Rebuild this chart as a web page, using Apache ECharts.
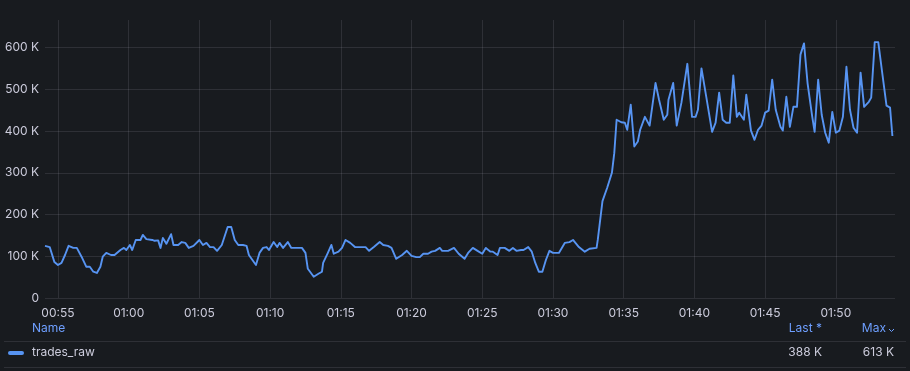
<!DOCTYPE html>
<html>
<head>
<meta charset="utf-8">
<script src="https://cdn.jsdelivr.net/npm/echarts@6/dist/echarts.min.js"></script>
<style>
html,body{margin:0;padding:0;background:#181b1f;}
#chart{width:910px;height:371px;}
</style>
</head>
<body>
<div id="chart"></div>
<script>
// Sample times (HH:MM:SS) and trades_raw values (in thousands)
const times = [
"00:54:05","00:54:25","00:54:45","00:55:00","00:55:15","00:55:30","00:55:45","00:56:05","00:56:20","00:56:40",
"00:57:00","00:57:15","00:57:30","00:57:45","00:58:00","00:58:10","00:58:25","00:58:45","00:59:00","00:59:25",
"00:59:40","00:59:50","01:00:05","01:00:15","01:00:30","01:00:50","01:01:00","01:01:15","01:01:40","01:01:50",
"01:02:05","01:02:15","01:02:25","01:02:40","01:03:00","01:03:10","01:03:30","01:03:45","01:04:00","01:04:15",
"01:04:35","01:05:00","01:05:15","01:05:30","01:05:45","01:06:00","01:06:15","01:06:35","01:07:00","01:07:15",
"01:07:30","01:07:45","01:08:05","01:08:20","01:08:30","01:08:45","01:09:00","01:09:15","01:09:30","01:09:45",
"01:09:55","01:10:15","01:10:30","01:10:40","01:10:55","01:11:15","01:11:30","01:11:55","01:12:15","01:12:30",
"01:12:40","01:13:05","01:13:25","01:13:40","01:13:45","01:14:05","01:14:20","01:14:30","01:14:50","01:15:05",
"01:15:20","01:15:40","01:16:00","01:16:20","01:16:45","01:17:00","01:17:20","01:17:45","01:18:00","01:18:20",
"01:18:35","01:18:55","01:19:20","01:19:40","01:20:00","01:20:20","01:20:35","01:20:50","01:21:10","01:21:25",
"01:21:40","01:22:00","01:22:10","01:22:35","01:23:00","01:23:20","01:23:45","01:24:00","01:24:20","01:24:40",
"01:25:00","01:25:15","01:25:35","01:25:45","01:26:05","01:26:15","01:26:35","01:26:55","01:27:10","01:27:25",
"01:27:45","01:27:55","01:28:15","01:28:30","01:28:45","01:29:00","01:29:15","01:29:30","01:29:45","01:30:00",
"01:30:25","01:30:50","01:31:10","01:31:25","01:31:50","01:32:15","01:32:35","01:33:05","01:33:10","01:33:30",
"01:33:50","01:34:10","01:34:20","01:34:30","01:34:50","01:35:05","01:35:15","01:35:30","01:35:45","01:36:00",
"01:36:10","01:36:30","01:36:50","01:37:15","01:37:30","01:37:50","01:38:05","01:38:10","01:38:30","01:38:45",
"01:39:05","01:39:30","01:39:50","01:40:05","01:40:15","01:40:30","01:40:50","01:41:15","01:41:30","01:41:45",
"01:42:00","01:42:15","01:42:30","01:42:45","01:43:00","01:43:10","01:43:30","01:43:40","01:44:00","01:44:15",
"01:44:30","01:44:45","01:45:00","01:45:15","01:45:30","01:45:45","01:46:05","01:46:15","01:46:30","01:46:45",
"01:47:00","01:47:15","01:47:30","01:47:45","01:48:00","01:48:20","01:48:30","01:48:45","01:49:00","01:49:15",
"01:49:30","01:49:45","01:50:00","01:50:15","01:50:30","01:50:45","01:51:00","01:51:15","01:51:30","01:51:45",
"01:52:00","01:52:20","01:52:30","01:52:45","01:53:00","01:53:15","01:53:35","01:53:50","01:54:00"
];
const tradesRawK = [
125,122,86,79,84,103,125,120,120,99,
75,75,63,60,75,99,108,103,103,115,
120,115,127,115,139,139,151,141,139,137,
138,120,144,130,153,127,127,134,132,120,
125,139,127,132,122,122,113,127,170,170,
139,127,127,125,103,91,79,108,120,122,
115,134,122,132,120,134,120,120,120,108,
70,51,58,63,84,108,127,106,111,120,
139,132,122,122,122,113,122,134,127,125,
120,94,103,113,101,98,98,106,106,111,
113,120,113,113,120,106,94,108,120,113,
106,120,111,111,103,120,120,113,120,113,
115,115,122,111,84,63,63,91,113,108,
108,132,134,139,122,111,118,120,139,232,
264,300,347,427,421,420,403,463,363,375,
403,434,413,515,475,427,439,475,515,413,
468,561,434,434,451,550,483,398,420,492,
427,420,420,533,434,444,427,487,401,379,
403,413,444,449,523,451,410,401,482,410,
458,458,583,610,515,434,398,523,439,396,
372,446,396,401,434,554,451,408,396,540,
458,470,480,613,613,547,461,456,388
];
const xTickLabels = ["00:55","01:00","01:05","01:10","01:15","01:20","01:25","01:30","01:35","01:40","01:45","01:50"];
const yTicks = [0, 100000, 200000, 300000, 400000, 500000, 600000];
const seriesName = 'trades_raw';
const axisStart = '00:54:05';
const axisEnd = '01:54:11';

// x values: seconds since midnight
const toSec = t => { const p = t.split(':').map(Number); return p[0] * 3600 + p[1] * 60 + (p[2] || 0); };
const pad = n => String(n).padStart(2, '0');
const secToHM = s => pad(Math.floor(s / 3600)) + ':' + pad(Math.floor((s % 3600) / 60));
const data = times.map((t, i) => [toSec(t), tradesRawK[i] * 1000]);
const xTickValues = xTickLabels.map(toSec);
const fmtK = v => v === 0 ? '0' : Math.round(v / 1000) + ' K';
const lastVal = tradesRawK[tradesRawK.length - 1] * 1000;
const maxVal = Math.max(...tradesRawK) * 1000;

const FONT = 'Inter, "Noto Sans", sans-serif';
const BLUE = '#5794F2';
const HEAD = '#6e9fff';
const TXT = '#ccccdc';
const GRID = 'rgba(204,204,220,0.12)';

const chart = echarts.init(document.getElementById('chart'), null, {renderer: 'canvas'});
chart.setOption({
  backgroundColor: '#181b1f',
  animation: false,
  textStyle: {fontFamily: FONT},
  grid: {left: 45, right: 15, top: 20, bottom: 73, containLabel: false},
  xAxis: {
    type: 'value',
    min: toSec(axisStart),
    max: toSec(axisEnd),
    axisLine: {show: false},
    axisTick: {show: false, customValues: xTickValues},
    splitLine: {show: true, lineStyle: {color: GRID, width: 1}},
    axisLabel: {
      color: TXT, fontSize: 12, fontFamily: FONT, margin: 9,
      customValues: xTickValues,
      formatter: v => secToHM(v)
    }
  },
  yAxis: {
    type: 'value',
    min: yTicks[0],
    max: 666000,
    interval: yTicks[1] - yTicks[0],
    axisLine: {show: false},
    axisTick: {show: false},
    splitLine: {show: true, showMaxLine: false, lineStyle: {color: GRID, width: 1}},
    axisLabel: {
      color: TXT, fontSize: 12, fontFamily: FONT, margin: 6,
      showMaxLabel: false,
      formatter: v => yTicks.includes(v) ? fmtK(v) : ''
    }
  },
  series: [{
    name: seriesName,
    type: 'line',
    data: data,
    showSymbol: false,
    symbol: 'none',
    lineStyle: {color: BLUE, width: 1.9, join: 'round'},
    itemStyle: {color: BLUE}
  }],
  graphic: [
    {type: 'text', left: 32, top: 322, style: {text: 'Name', fill: HEAD, font: '12px ' + FONT}},
    {type: 'text', right: 88, top: 322, style: {text: 'Last *', fill: HEAD, font: '12px ' + FONT}},
    {type: 'text', right: 24, top: 322, style: {text: 'Max', fill: HEAD, font: '12px ' + FONT}},
    {type: 'polyline', shape: {points: [[889, 329], [891.5, 331.5], [894, 329]]}, style: {stroke: HEAD, lineWidth: 1, fill: null}},
    {type: 'line', shape: {x1: 4, y1: 341.5, x2: 906, y2: 341.5}, style: {stroke: 'rgba(204,204,220,0.12)', lineWidth: 1}},
    {type: 'line', shape: {x1: 10, y1: 353, x2: 22, y2: 353}, style: {stroke: BLUE, lineWidth: 4, lineCap: 'round'}},
    {type: 'text', left: 32, top: 346, style: {text: seriesName, fill: TXT, font: '12px ' + FONT}},
    {type: 'text', right: 88, top: 346, style: {text: fmtK(lastVal), fill: TXT, font: '12px ' + FONT}},
    {type: 'text', right: 16, top: 346, style: {text: fmtK(maxVal), fill: TXT, font: '12px ' + FONT}},
    {type: 'line', shape: {x1: 4, y1: 367.5, x2: 906, y2: 367.5}, style: {stroke: 'rgba(204,204,220,0.12)', lineWidth: 1}}
  ]
});
</script>
</body>
</html>
